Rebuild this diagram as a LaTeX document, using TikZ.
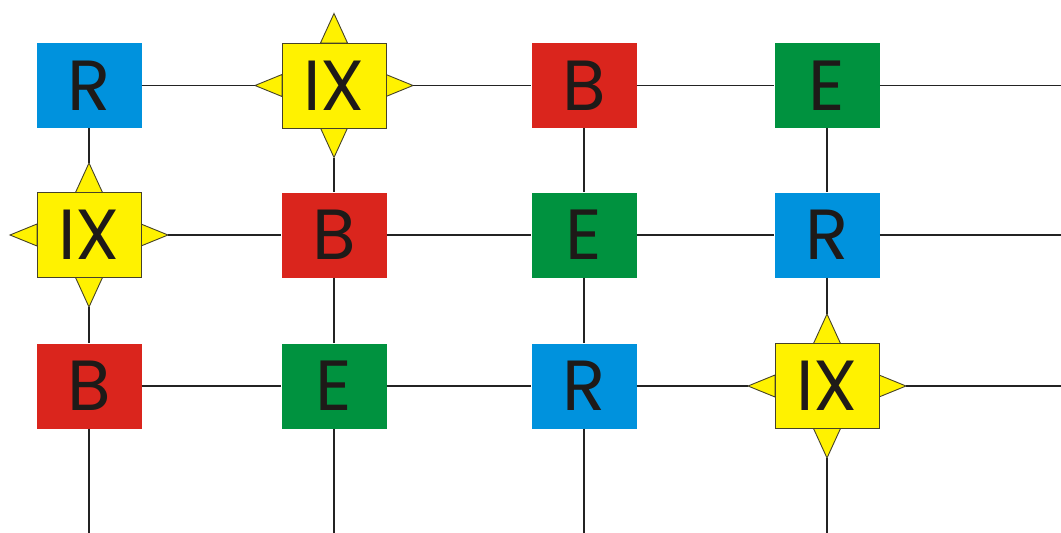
\documentclass[tikz,border=0pt]{standalone}
\usepackage{fontspec}
\setmainfont{Poppins}
\definecolor{cblue}{RGB}{0,146,221}
\definecolor{cred}{RGB}{218,37,29}
\definecolor{cgreen}{RGB}{0,146,63}
\definecolor{cyel}{RGB}{255,242,0}
\definecolor{ctext}{RGB}{30,26,24}
\definecolor{cline}{RGB}{35,35,35}
\definecolor{cedge}{RGB}{70,66,40}
\tikzset{
  tile/.style={minimum width=105pt, minimum height=85pt, inner sep=0pt,
    text=ctext, font=\fontsize{71}{71}\selectfont},
  rbox/.style={tile, fill=cblue},
  bbox/.style={tile, fill=cred},
  ebox/.style={tile, fill=cgreen},
  ixbox/.style={tile, fill=cyel, draw=cedge, line width=0.9pt, minimum width=104pt},
  spike/.style={fill=cyel, draw=cedge, line width=0.9pt, line join=miter},
  link/.style={draw=cline, line width=1.1pt}
}
% \ixstar{name}{x}{y}
\newcommand{\ixstar}[3]{%
  \coordinate (#1-n) at (#2,#3-72);
  \coordinate (#1-s) at (#2,#3+72);
  \coordinate (#1-w) at (#2-79,#3);
  \coordinate (#1-e) at (#2+79,#3);
  \path[spike] (#1-n) -- (#2+13.5,#3-42.5) -- (#2-13.5,#3-42.5) -- cycle;
  \path[spike] (#1-s) -- (#2+13.5,#3+42.5) -- (#2-13.5,#3+42.5) -- cycle;
  \path[spike] (#1-w) -- (#2-52,#3-11) -- (#2-52,#3+11) -- cycle;
  \path[spike] (#1-e) -- (#2+52,#3-11) -- (#2+52,#3+11) -- cycle;
  \node[ixbox] (#1) at (#2,#3) {IX};
}
\begin{document}
\begin{tikzpicture}[x=1pt,y=-1pt]
\useasboundingbox (0,0) rectangle (1061,533);
% edge coordinates
\coordinate (r1end) at (1061,85.5);
\coordinate (r2end) at (1061,235);
\coordinate (r3end) at (1061,386);
\coordinate (c1end) at (89,533);
\coordinate (c2end) at (334,533);
\coordinate (c3end) at (584,533);
\coordinate (c4end) at (827,533);
% nodes
\node[rbox] (a1) at (89,85.5) {R};
\ixstar{ix1}{334}{85.5}
\node[bbox] (a3) at (584,85.5) {B};
\node[ebox] (a4) at (827,85.5) {E};
\ixstar{ix2}{89}{235}
\node[bbox] (b2) at (334,235) {B};
\node[ebox] (b3) at (584,235) {E};
\node[rbox] (b4) at (827,235) {R};
\node[bbox] (c1) at (89,386) {B};
\node[ebox] (c2) at (334,386) {E};
\node[rbox] (c3) at (584,386) {R};
\ixstar{ix3}{827}{386}
% rows
\draw[link] (a1.east) -- (ix1-w);
\draw[link] (ix1-e) -- (a3.west);
\draw[link] (a3.east) -- (a4.west);
\draw[link] (a4.east) -- (r1end);
\draw[link] (ix2-e) -- (b2.west);
\draw[link] (b2.east) -- (b3.west);
\draw[link] (b3.east) -- (b4.west);
\draw[link] (b4.east) -- (r2end);
\draw[link] (c1.east) -- (c2.west);
\draw[link] (c2.east) -- (c3.west);
\draw[link] (c3.east) -- (ix3-w);
\draw[link] (ix3-e) -- (r3end);
% columns
\draw[link] (a1.south) -- (ix2-n);
\draw[link] (ix2-s) -- (c1.north);
\draw[link] (c1.south) -- (c1end);
\draw[link] (ix1-s) -- (b2.north);
\draw[link] (b2.south) -- (c2.north);
\draw[link] (c2.south) -- (c2end);
\draw[link] (a3.south) -- (b3.north);
\draw[link] (b3.south) -- (c3.north);
\draw[link] (c3.south) -- (c3end);
\draw[link] (a4.south) -- (b4.north);
\draw[link] (b4.south) -- (ix3-n);
\draw[link] (ix3-s) -- (c4end);
\end{tikzpicture}
\end{document}
